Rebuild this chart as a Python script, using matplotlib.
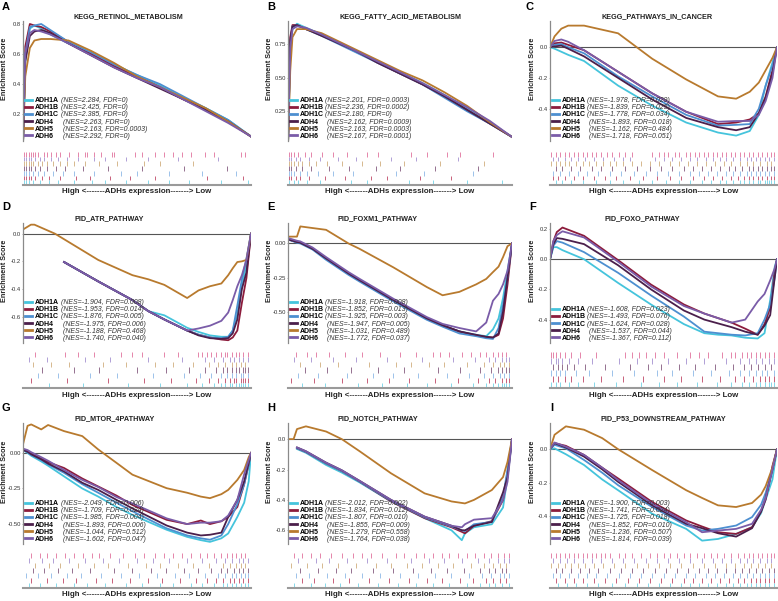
import numpy as np
import matplotlib.pyplot as plt
from matplotlib.lines import Line2D

plt.rcParams["font.family"] = ["Liberation Sans", "DejaVu Sans"]
plt.rcParams["axes.unicode_minus"] = False

GENES = ["ADH1A", "ADH1B", "ADH1C", "ADH4", "ADH5", "ADH6"]
COLORS = {"ADH1A": "#45c4dc", "ADH1B": "#8c1c3c", "ADH1C": "#4d8fd0",
          "ADH4": "#4b1f4b", "ADH5": "#b87a2e", "ADH6": "#7a5ca8"}
RUG_COLORS = {"top": "#e585aa", "ADH6": "#b0a0d6", "ADH5": "#d6b88e", "ADH4": "#94708f",
              "ADH1C": "#9cc2ea", "ADH1B": "#c8607a", "ADH1A": "#86d8ea"}
nan = np.nan

# ---- A: KEGG_RETINOL_METABOLISM
A_X = [0, 0.01, 0.03, 0.05, 0.08, 0.12, 0.2, 0.3, 0.4, 0.5, 0.6, 0.7, 0.8, 0.9, 1.0]
A_ES = {
    "ADH1A": [0.0, 0.55, 0.77, 0.79, 0.77, 0.73, 0.67, 0.60, 0.53, 0.46, 0.39, 0.31, 0.24, 0.16, 0.05],
    "ADH1B": [0.0, 0.65, 0.80, 0.79, 0.78, 0.75, 0.68, 0.60, 0.52, 0.45, 0.38, 0.30, 0.23, 0.15, 0.05],
    "ADH1C": [0.0, 0.60, 0.78, 0.79, 0.80, 0.76, 0.68, 0.61, 0.53, 0.46, 0.40, 0.32, 0.24, 0.16, 0.05],
    "ADH4": [0.0, 0.55, 0.72, 0.75, 0.76, 0.74, 0.67, 0.59, 0.51, 0.44, 0.37, 0.30, 0.23, 0.15, 0.05],
    "ADH5": [0.0, 0.45, 0.64, 0.69, 0.70, 0.70, 0.69, 0.62, 0.54, 0.45, 0.38, 0.31, 0.24, 0.15, 0.05],
    "ADH6": [0.0, 0.60, 0.74, 0.76, 0.75, 0.73, 0.67, 0.59, 0.51, 0.44, 0.38, 0.30, 0.22, 0.14, 0.05],
}
A_STATS = ["NES=2.284, FDR=0", "NES=2.425, FDR=0", "NES=2.385, FDR=0",
           "NES=2.263, FDR=0", "NES=2.163, FDR=0.0003", "NES=2.292, FDR=0"]
A_RUG = {
    "top": [0, 1, 2, 3, 4, 5, 6, 9, 10, 12, 14, 16, 20, 24, 27, 28, 31, 34, 39, 40, 49, 52, 58, 62, 66, 70, 74, 80, 84, 96, 98],
    "ADH6": [0, 1, 2, 3, 5, 7, 9, 12, 15, 19, 24, 31, 36, 45, 55, 68, 86],
    "ADH5": [0, 1, 2, 3, 4, 6, 8, 10, 13, 16, 19, 22, 27, 33, 41, 53, 60, 75],
    "ADH4": [0, 1, 2, 3, 5, 7, 10, 14, 18, 26, 37, 52, 71, 90],
    "ADH1C": [0, 1, 2, 4, 6, 9, 13, 17, 22, 31, 43, 50, 64, 79, 94],
    "ADH1B": [0, 1, 2, 3, 5, 8, 11, 16, 23, 29, 38, 47, 58, 81, 97],
    "ADH1A": [0, 1, 2, 4, 7, 11, 15, 22, 30, 36, 45, 55, 64, 73, 87, 99],
}

# ---- B: KEGG_FATTY_ACID_METABOLISM
B_X = [0, 0.01, 0.02, 0.04, 0.08, 0.15, 0.3, 0.4, 0.5, 0.6, 0.7, 0.8, 0.9, 1.0]
B_ES = {
    "ADH1A": [0.0, 0.70, 0.86, 0.90, 0.87, 0.82, 0.70, 0.62, 0.54, 0.46, 0.37, 0.27, 0.17, 0.06],
    "ADH1B": [0.0, 0.80, 0.89, 0.89, 0.86, 0.82, 0.70, 0.61, 0.53, 0.45, 0.36, 0.26, 0.16, 0.06],
    "ADH1C": [0.0, 0.75, 0.88, 0.89, 0.86, 0.81, 0.69, 0.61, 0.53, 0.45, 0.35, 0.25, 0.16, 0.06],
    "ADH4": [0.0, 0.78, 0.88, 0.89, 0.86, 0.81, 0.70, 0.61, 0.53, 0.45, 0.36, 0.26, 0.16, 0.06],
    "ADH5": [0.0, 0.55, 0.80, 0.86, 0.86, 0.83, 0.71, 0.63, 0.55, 0.48, 0.39, 0.29, 0.17, 0.06],
    "ADH6": [0.0, 0.72, 0.86, 0.88, 0.87, 0.82, 0.70, 0.62, 0.54, 0.46, 0.37, 0.28, 0.18, 0.06],
}
B_STATS = ["NES=2.201, FDR=0.0003", "NES=2.236, FDR=0.0002", "NES=2.180, FDR=0",
           "NES=2.162, FDR=0.0009", "NES=2.163, FDR=0.0003", "NES=2.167, FDR=0.0001"]
B_RUG = {
    "top": [0, 1, 2, 4, 7, 10, 15, 20, 26, 35, 40, 55, 62, 71, 77, 92],
    "ADH6": [0, 1, 3, 5, 9, 14, 22, 30, 46, 57, 76],
    "ADH5": [0, 1, 2, 4, 6, 9, 12, 17, 24, 33, 41, 52, 68, 88],
    "ADH4": [0, 1, 3, 6, 10, 18, 27, 39, 50, 66, 85],
    "ADH1C": [0, 1, 2, 5, 8, 13, 20, 29, 48, 61, 83],
    "ADH1B": [0, 1, 3, 5, 9, 16, 25, 37, 44, 59, 73],
    "ADH1A": [0, 2, 4, 8, 14, 28, 35, 54, 65, 80, 96],
}

# ---- C: KEGG_PATHWAYS_IN_CANCER
C_X = [0, 0.02, 0.05, 0.08, 0.15, 0.3, 0.45, 0.6, 0.74, 0.82, 0.88, 0.92, 0.95, 0.98, 1.0]
C_ES = {
    "ADH1A": [0, -0.01, -0.03, -0.05, -0.09, -0.25, -0.38, -0.49, -0.555, -0.575, -0.545, -0.44, -0.25, -0.10, 0],
    "ADH1B": [0, 0.025, 0.03, 0.015, -0.02, -0.16, -0.30, -0.42, -0.50, -0.49, -0.47, -0.43, -0.32, -0.15, 0],
    "ADH1C": [0, 0.015, 0.02, 0.0, -0.04, -0.19, -0.32, -0.44, -0.51, -0.505, -0.50, -0.40, -0.25, -0.12, 0],
    "ADH4": [0, 0.005, 0.01, -0.01, -0.06, -0.20, -0.34, -0.46, -0.52, -0.54, -0.52, -0.43, -0.33, -0.17, 0],
    "ADH5": [0, 0.07, 0.12, 0.14, 0.14, 0.09, -0.075, -0.21, -0.32, -0.335, -0.29, -0.23, -0.15, -0.07, 0],
    "ADH6": [0, 0.04, 0.05, 0.035, -0.02, -0.16, -0.30, -0.42, -0.485, -0.48, -0.48, -0.44, -0.35, -0.20, 0],
}
C_STATS = ["NES=-1.978, FDR=0.029", "NES=-1.839, FDR=0.025", "NES=-1.778, FDR=0.034",
           "NES=-1.893, FDR=0.018", "NES=-1.162, FDR=0.484", "NES=-1.718, FDR=0.051"]
C_RUG = {
    "top": [0, 2, 4, 6, 8, 10, 12, 14, 16, 18, 20, 22, 25, 27, 30, 33, 36, 45, 48, 50, 52, 55, 57, 60, 62, 64, 66, 68, 70, 72, 74, 76, 78, 80, 82, 84, 86, 88, 90, 92, 94, 96, 98, 99],
    "ADH6": [1, 3, 6, 9, 12, 15, 19, 23, 28, 32, 35, 46, 50, 54, 58, 62, 65, 69, 72, 75, 78, 81, 84, 87, 89, 91, 93, 95, 97, 99],
    "ADH5": [0, 2, 4, 6, 8, 11, 14, 17, 20, 23, 26, 29, 32, 36, 40, 44, 48, 53, 57, 61, 65, 69, 73, 77, 80, 84, 87, 90, 93, 96, 98],
    "ADH4": [2, 5, 9, 13, 18, 22, 27, 33, 38, 44, 49, 54, 59, 63, 67, 71, 75, 79, 82, 85, 88, 90, 92, 94, 96, 98, 99],
    "ADH1C": [1, 4, 8, 12, 16, 21, 26, 31, 37, 42, 47, 52, 57, 62, 66, 70, 74, 78, 81, 84, 87, 89, 91, 93, 95, 97, 99],
    "ADH1B": [1, 3, 6, 10, 14, 19, 24, 29, 35, 41, 47, 53, 58, 63, 68, 72, 76, 80, 83, 86, 88, 90, 92, 94, 96, 98, 99],
    "ADH1A": [2, 5, 9, 14, 20, 26, 32, 39, 45, 51, 57, 62, 67, 71, 75, 78, 81, 84, 86, 88, 90, 92, 93, 95, 96, 97, 98, 99],
}

# ---- D: PID_ATR_PATHWAY
D_X = [0, 0.035, 0.05, 0.14, 0.18, 0.33, 0.48, 0.55, 0.62, 0.72, 0.77, 0.82, 0.87, 0.9, 0.92, 0.94, 0.96, 0.98, 1.0]
D_ES = {
    "ADH1A": [nan, nan, nan, nan, -0.205, -0.345, -0.48, -0.56, -0.59, -0.68, -0.71, -0.735, -0.745, -0.745, -0.70, -0.58, -0.38, -0.22, 0],
    "ADH1B": [nan, nan, nan, nan, -0.205, -0.345, -0.48, -0.56, -0.62, -0.70, -0.73, -0.75, -0.765, -0.77, -0.75, -0.70, -0.50, -0.32, 0],
    "ADH1C": [nan, nan, nan, nan, -0.205, -0.345, -0.48, -0.56, -0.62, -0.70, -0.73, -0.75, -0.755, -0.745, -0.70, -0.52, -0.33, -0.18, 0],
    "ADH4": [nan, nan, nan, nan, -0.205, -0.345, -0.48, -0.56, -0.62, -0.70, -0.735, -0.755, -0.76, -0.755, -0.72, -0.62, -0.40, -0.28, 0],
    "ADH5": [0.03, 0.065, 0.065, 0.0, -0.04, -0.19, -0.30, -0.33, -0.37, -0.465, -0.41, -0.38, -0.36, -0.30, -0.25, -0.205, -0.20, -0.19, 0],
    "ADH6": [nan, nan, nan, nan, -0.205, -0.345, -0.48, -0.56, -0.62, -0.70, -0.685, -0.665, -0.63, -0.57, -0.48, -0.38, -0.30, -0.19, 0],
}
D_STATS = ["NES=-1.904, FDR=0.008", "NES=-1.953, FDR=0.014", "NES=-1.876, FDR=0.005",
           "NES=-1.975, FDR=0.006", "NES=-1.188, FDR=0.468", "NES=-1.740, FDR=0.040"]
D_RUG = {
    "top": [5, 18, 24, 31, 43, 48, 52, 62, 68, 77, 79, 81, 83, 85, 87, 89, 90, 92, 94, 95, 97, 99],
    "ADH6": [2, 10, 27, 38, 55, 70, 80, 84, 88, 91, 93, 95, 97, 99],
    "ADH5": [4, 12, 20, 35, 45, 58, 66, 75, 82, 86, 89, 92, 94, 96, 98],
    "ADH4": [8, 22, 33, 50, 63, 73, 80, 85, 88, 90, 92, 94, 95, 97, 98, 99],
    "ADH1C": [6, 15, 29, 41, 57, 71, 78, 83, 87, 90, 92, 94, 96, 97, 99],
    "ADH1B": [3, 19, 37, 53, 65, 76, 82, 86, 89, 91, 93, 94, 96, 97, 98, 99],
    "ADH1A": [11, 26, 46, 60, 72, 79, 84, 87, 89, 91, 92, 94, 95, 96, 97, 98, 99],
}

# ---- E: PID_FOXM1_PATHWAY
E_X = [0, 0.04, 0.055, 0.11, 0.17, 0.27, 0.32, 0.47, 0.62, 0.69, 0.765, 0.84, 0.885, 0.915, 0.94, 0.96, 0.98, 1.0]
E_ES = {
    "ADH1A": [0.03, 0.01, 0.005, -0.04, -0.11, -0.22, -0.27, -0.415, -0.55, -0.60, -0.645, -0.67, -0.68, -0.63, -0.55, -0.40, -0.20, 0],
    "ADH1B": [0.03, 0.01, 0.005, -0.04, -0.11, -0.22, -0.27, -0.415, -0.55, -0.60, -0.645, -0.675, -0.685, -0.69, -0.67, -0.55, -0.30, 0],
    "ADH1C": [0.03, 0.005, 0.0, -0.045, -0.12, -0.23, -0.28, -0.425, -0.56, -0.61, -0.66, -0.68, -0.695, -0.70, -0.62, -0.45, -0.25, 0],
    "ADH4": [0.03, 0.01, 0.005, -0.04, -0.11, -0.22, -0.27, -0.415, -0.55, -0.60, -0.645, -0.67, -0.685, -0.69, -0.66, -0.50, -0.25, 0],
    "ADH5": [0.05, 0.05, 0.125, 0.113, 0.10, 0.0, -0.04, -0.175, -0.32, -0.38, -0.355, -0.30, -0.26, -0.21, -0.17, -0.10, -0.02, 0],
    "ADH6": [0.04, 0.02, 0.015, -0.03, -0.10, -0.21, -0.26, -0.405, -0.54, -0.59, -0.62, -0.645, -0.58, -0.42, -0.37, -0.30, -0.20, 0],
}
E_STATS = ["NES=-1.918, FDR=0.008", "NES=-1.852, FDR=0.013", "NES=-1.925, FDR=0.003",
           "NES=-1.947, FDR=0.005", "NES=-1.031, FDR=0.489", "NES=-1.772, FDR=0.037"]
E_RUG = {
    "top": [3, 8, 12, 18, 25, 33, 41, 50, 57, 65, 68, 72, 78, 82, 86, 89, 92, 94, 96, 98],
    "ADH6": [2, 10, 20, 30, 44, 60, 74, 84, 90, 93, 96, 98, 99],
    "ADH5": [5, 14, 22, 36, 48, 55, 63, 70, 80, 88, 92, 95, 97, 99],
    "ADH4": [7, 17, 28, 40, 52, 67, 77, 86, 91, 94, 96, 98, 99],
    "ADH1C": [4, 13, 26, 38, 47, 58, 71, 81, 88, 92, 95, 97, 99],
    "ADH1B": [1, 11, 24, 35, 45, 54, 66, 76, 85, 90, 93, 96, 98, 99],
    "ADH1A": [6, 16, 31, 42, 53, 62, 73, 83, 89, 92, 94, 96, 97, 98, 99],
}

# ---- F: PID_FOXO_PATHWAY (no ADH5)
F_X = [0, 0.015, 0.03, 0.055, 0.15, 0.3, 0.445, 0.59, 0.68, 0.74, 0.8, 0.86, 0.915, 0.945, 0.97, 0.99, 1.0]
F_ES = {
    "ADH1A": [0, 0.08, 0.08, 0.06, 0.0, -0.157, -0.30, -0.43, -0.49, -0.50, -0.505, -0.52, -0.525, -0.49, -0.27, -0.05, 0],
    "ADH1B": [0, 0.12, 0.18, 0.21, 0.155, -0.006, -0.168, -0.30, -0.36, -0.39, -0.42, -0.46, -0.50, -0.43, -0.32, -0.08, 0],
    "ADH1C": [0, 0.09, 0.12, 0.11, 0.047, -0.09, -0.24, -0.38, -0.48, -0.49, -0.50, -0.505, -0.49, -0.40, -0.30, -0.12, 0],
    "ADH4": [0, 0.10, 0.14, 0.135, 0.10, -0.04, -0.20, -0.34, -0.40, -0.425, -0.45, -0.48, -0.50, -0.44, -0.37, -0.12, 0],
    "ADH6": [0, 0.12, 0.16, 0.185, 0.144, -0.017, -0.18, -0.31, -0.36, -0.39, -0.42, -0.40, -0.28, -0.23, -0.14, -0.06, 0],
}
F_STATS = ["NES=-1.608, FDR=0.023", "NES=-1.493, FDR=0.076", "NES=-1.624, FDR=0.028",
           "NES=-1.537, FDR=0.044", "NES=-1.367, FDR=0.112"]
F_RUG = {
    "top": [0, 1, 2, 4, 6, 9, 13, 20, 33, 36, 39, 42, 46, 50, 56, 62, 66, 70, 76, 80, 82, 85, 87, 89, 91, 93, 95, 97, 99],
    "ADH6": [0, 2, 3, 5, 8, 12, 18, 30, 38, 45, 52, 60, 68, 78, 84, 88, 91, 94, 97, 99],
    "ADH4": [1, 3, 5, 7, 10, 15, 24, 35, 43, 49, 57, 64, 73, 81, 86, 89, 92, 95, 98],
    "ADH1C": [0, 2, 4, 6, 11, 17, 27, 37, 47, 54, 63, 71, 79, 84, 88, 91, 94, 96, 99],
    "ADH1B": [1, 3, 6, 9, 14, 22, 32, 41, 50, 58, 67, 75, 82, 86, 90, 93, 95, 97, 99],
    "ADH1A": [0, 2, 4, 8, 12, 19, 29, 40, 48, 56, 65, 74, 80, 85, 88, 91, 93, 95, 97, 98, 99],
}

# ---- G: PID_MTOR_4PATHWAY
G_X = [0, 0.02, 0.036, 0.08, 0.11, 0.18, 0.26, 0.33, 0.41, 0.48, 0.63, 0.72, 0.78, 0.82, 0.87, 0.9, 0.94, 0.97, 0.99, 1.0]
G_ES = {
    "ADH1A": [0.02, 0.0, -0.02, -0.06, -0.09, -0.165, -0.25, -0.307, -0.38, -0.436, -0.54, -0.59, -0.613, -0.625, -0.60, -0.566, -0.45, -0.35, -0.20, 0],
    "ADH1B": [0.025, 0.01, -0.005, -0.04, -0.065, -0.106, -0.18, -0.236, -0.30, -0.366, -0.47, -0.50, -0.475, -0.50, -0.48, -0.45, -0.38, -0.22, -0.08, 0],
    "ADH1C": [0.02, 0.005, -0.015, -0.05, -0.08, -0.14, -0.22, -0.28, -0.35, -0.41, -0.53, -0.58, -0.60, -0.61, -0.58, -0.50, -0.36, -0.22, -0.08, 0],
    "ADH4": [0.02, 0.008, -0.01, -0.045, -0.075, -0.13, -0.21, -0.26, -0.33, -0.39, -0.51, -0.56, -0.58, -0.575, -0.56, -0.45, -0.33, -0.20, -0.07, 0],
    "ADH5": [0.06, 0.19, 0.20, 0.165, 0.196, 0.153, 0.118, 0.024, -0.07, -0.153, -0.248, -0.28, -0.307, -0.318, -0.29, -0.26, -0.19, -0.12, -0.03, 0],
    "ADH6": [0.03, 0.02, 0.005, -0.03, -0.055, -0.12, -0.19, -0.24, -0.31, -0.355, -0.46, -0.50, -0.49, -0.49, -0.48, -0.44, -0.33, -0.15, -0.05, 0],
}
G_STATS = ["NES=-2.049, FDR=0.006", "NES=-1.709, FDR=0.024", "NES=-1.985, FDR=0.004",
           "NES=-1.893, FDR=0.006", "NES=-1.044, FDR=0.512", "NES=-1.602, FDR=0.047"]
G_RUG = {
    "top": [3, 7, 10, 14, 18, 22, 26, 30, 33, 38, 44, 49, 53, 58, 62, 66, 70, 74, 78, 81, 84, 87, 90, 92, 94, 96, 98],
    "ADH6": [2, 8, 13, 20, 27, 35, 42, 50, 57, 64, 72, 79, 85, 89, 92, 95, 97, 99],
    "ADH5": [5, 11, 16, 24, 31, 37, 46, 54, 60, 68, 75, 82, 88, 91, 94, 96, 98],
    "ADH4": [4, 9, 15, 21, 29, 40, 48, 56, 63, 71, 77, 83, 87, 90, 93, 95, 97, 99],
    "ADH1C": [1, 6, 12, 19, 25, 34, 43, 51, 59, 67, 73, 80, 86, 89, 92, 94, 96, 98, 99],
    "ADH1B": [3, 10, 17, 23, 32, 39, 47, 55, 61, 69, 76, 81, 85, 88, 91, 93, 95, 97, 99],
    "ADH1A": [2, 7, 14, 22, 28, 36, 45, 52, 60, 66, 74, 79, 84, 88, 90, 92, 94, 96, 98, 99],
}

# ---- H: PID_NOTCH_PATHWAY
H_X = [0, 0.025, 0.04, 0.08, 0.17, 0.24, 0.32, 0.46, 0.61, 0.73, 0.776, 0.79, 0.83, 0.91, 0.96, 0.98, 1.0]
H_ES = {
    "ADH1A": [nan, nan, -0.065, -0.09, -0.17, -0.22, -0.285, -0.41, -0.52, -0.60, -0.665, -0.62, -0.58, -0.56, -0.45, -0.25, 0],
    "ADH1B": [nan, nan, -0.06, -0.085, -0.16, -0.21, -0.28, -0.41, -0.52, -0.58, -0.61, -0.62, -0.57, -0.54, -0.40, -0.22, 0],
    "ADH1C": [nan, nan, -0.06, -0.085, -0.16, -0.21, -0.28, -0.405, -0.515, -0.575, -0.60, -0.605, -0.56, -0.545, -0.38, -0.20, 0],
    "ADH4": [nan, nan, -0.055, -0.08, -0.155, -0.205, -0.275, -0.40, -0.51, -0.57, -0.60, -0.60, -0.57, -0.545, -0.35, -0.25, 0],
    "ADH5": [0, 0.0, 0.066, 0.084, 0.05, 0.0, -0.08, -0.225, -0.357, -0.41, -0.42, -0.423, -0.40, -0.335, -0.25, -0.15, 0],
    "ADH6": [nan, nan, -0.055, -0.08, -0.155, -0.205, -0.275, -0.40, -0.51, -0.57, -0.58, -0.56, -0.53, -0.52, -0.40, -0.28, 0],
}
H_STATS = ["NES=-2.012, FDR=0.002", "NES=-1.834, FDR=0.012", "NES=-1.807, FDR=0.010",
           "NES=-1.855, FDR=0.009", "NES=-1.279, FDR=0.558", "NES=-1.764, FDR=0.038"]
H_RUG = {
    "top": [2, 6, 10, 14, 19, 24, 29, 33, 37, 42, 48, 52, 57, 61, 65, 69, 72, 76, 80, 84, 88, 91, 94, 97, 99],
    "ADH6": [4, 12, 18, 26, 35, 44, 55, 63, 70, 78, 85, 90, 94, 97, 99],
    "ADH5": [1, 8, 15, 22, 30, 39, 46, 53, 60, 67, 74, 82, 88, 92, 95, 98],
    "ADH4": [5, 13, 21, 28, 38, 47, 56, 64, 71, 79, 86, 90, 93, 96, 98],
    "ADH1C": [3, 9, 17, 25, 33, 41, 50, 58, 66, 73, 81, 87, 91, 95, 97, 99],
    "ADH1B": [6, 11, 20, 27, 36, 45, 54, 62, 69, 77, 83, 89, 92, 95, 98],
    "ADH1A": [2, 10, 16, 23, 31, 40, 49, 57, 65, 72, 80, 86, 90, 93, 96, 99],
}

# ---- I: PID_P53_DOWNSTREAM_PATHWAY
I_X = [0, 0.02, 0.07, 0.15, 0.23, 0.3, 0.45, 0.6, 0.67, 0.74, 0.82, 0.89, 0.93, 0.95, 0.98, 1.0]
I_ES = {
    "ADH1A": [0, 0.005, -0.03, -0.094, -0.18, -0.244, -0.384, -0.474, -0.544, -0.534, -0.504, -0.464, -0.38, -0.30, -0.18, 0],
    "ADH1B": [0, 0.036, 0.02, -0.034, -0.11, -0.174, -0.314, -0.424, -0.46, -0.494, -0.504, -0.464, -0.37, -0.30, -0.10, 0],
    "ADH1C": [0, 0.026, 0.005, -0.064, -0.14, -0.214, -0.344, -0.454, -0.484, -0.474, -0.454, -0.404, -0.33, -0.26, -0.12, 0],
    "ADH4": [0, 0.036, 0.01, -0.044, -0.12, -0.194, -0.334, -0.444, -0.47, -0.50, -0.52, -0.47, -0.37, -0.29, -0.12, 0],
    "ADH5": [0, 0.086, 0.136, 0.116, 0.066, 0.0, -0.124, -0.244, -0.29, -0.334, -0.344, -0.32, -0.27, -0.22, -0.11, 0],
    "ADH6": [0, 0.04, 0.015, -0.034, -0.11, -0.184, -0.324, -0.434, -0.494, -0.484, -0.474, -0.444, -0.36, -0.29, -0.12, 0],
}
I_STATS = ["NES=-1.900, FDR=0.003", "NES=-1.741, FDR=0.024", "NES=-1.725, FDR=0.018",
           "NES=-1.852, FDR=0.010", "NES=-1.236, FDR=0.507", "NES=-1.814, FDR=0.039"]
I_RUG = {
    "top": [0, 2, 4, 6, 8, 10, 12, 14, 16, 18, 20, 22, 24, 26, 30, 33, 36, 40, 44, 47, 50, 53, 56, 59, 62, 65, 68, 71, 74, 77, 80, 83, 86, 88, 90, 92, 94, 96, 98, 99],
    "ADH6": [1, 4, 7, 10, 14, 18, 22, 27, 32, 37, 42, 47, 52, 57, 62, 67, 72, 76, 80, 84, 87, 90, 93, 96, 98],
    "ADH5": [0, 3, 6, 9, 12, 15, 19, 23, 28, 33, 38, 43, 48, 53, 58, 63, 68, 73, 78, 82, 86, 89, 92, 95, 98],
    "ADH4": [2, 5, 9, 13, 17, 21, 26, 31, 36, 41, 46, 51, 56, 61, 66, 70, 74, 78, 82, 85, 88, 91, 94, 97, 99],
    "ADH1C": [1, 4, 8, 12, 16, 20, 25, 30, 35, 40, 45, 50, 55, 60, 64, 69, 73, 77, 81, 84, 87, 90, 93, 95, 97, 99],
    "ADH1B": [2, 6, 10, 14, 19, 24, 29, 34, 39, 44, 49, 54, 59, 63, 67, 71, 75, 79, 83, 86, 89, 91, 93, 95, 97, 99],
    "ADH1A": [3, 7, 11, 16, 21, 27, 33, 38, 43, 48, 53, 58, 62, 66, 70, 74, 78, 81, 84, 87, 89, 91, 93, 95, 97, 99],
}

# letter, title, x, es, stats, rug, ylim, yticks, tick format
PANELS = [
    ("A", "KEGG_RETINOL_METABOLISM", A_X, A_ES, A_STATS, A_RUG, (0.02, 0.82), [0.2, 0.4, 0.6, 0.8], "%.1f"),
    ("B", "KEGG_FATTY_ACID_METABOLISM", B_X, B_ES, B_STATS, B_RUG, (0.03, 0.92), [0.25, 0.5, 0.75], "%.2f"),
    ("C", "KEGG_PATHWAYS_IN_CANCER", C_X, C_ES, C_STATS, C_RUG, (-0.61, 0.17), [-0.4, -0.2, 0.0], "%.1f"),
    ("D", "PID_ATR_PATHWAY", D_X, D_ES, D_STATS, D_RUG, (-0.79, 0.077), [-0.6, -0.4, -0.2, 0.0], "%.1f"),
    ("E", "PID_FOXM1_PATHWAY", E_X, E_ES, E_STATS, E_RUG, (-0.73, 0.15), [-0.5, -0.25, 0.0], "%.2f"),
    ("F", "PID_FOXO_PATHWAY", F_X, F_ES, F_STATS, F_RUG, (-0.555, 0.24), [-0.4, -0.2, 0.0, 0.2], "%.1f"),
    ("G", "PID_MTOR_4PATHWAY", G_X, G_ES, G_STATS, G_RUG, (-0.64, 0.21), [-0.5, -0.25, 0.0], "%.2f"),
    ("H", "PID_NOTCH_PATHWAY", H_X, H_ES, H_STATS, H_RUG, (-0.69, 0.106), [-0.6, -0.4, -0.2, 0.0], "%.1f"),
    ("I", "PID_P53_DOWNSTREAM_PATHWAY", I_X, I_ES, I_STATS, I_RUG, (-0.564, 0.156), [-0.4, -0.2, 0.0], "%.1f"),
]

# layout in pixels
W, H = 778, 601
COL_L = [23, 288, 550]
COL_R = [251, 512, 777]
YLAB_X = [8, 273, 536]      # right edge of the rotated y label
MAIN_TB = [(21, 141), (223, 343), (423, 544)]
RUG_TB = [(152, 185), (352, 388), (553, 588)]
LETTER_X = [2, 267, 525, 2, 267, 529, 2, 267, 550]
LETTER_Y = [7, 207, 408]
TITLE_X = [0.46, 0.5, 0.47, 0.38, 0.40, 0.405, 0.40, 0.40, 0.50]

fig = plt.figure(figsize=(W / 100, H / 100), dpi=100)


def px_axes(l, t, r, b):
    return fig.add_axes([l / W, 1 - b / H, (r - l) / W, (b - t) / H])


for k, (letter, title, xs, es, stats, rug, ylim, yticks, fmt) in enumerate(PANELS):
    row, col = divmod(k, 3)
    ax = px_axes(COL_L[col], MAIN_TB[row][0], COL_R[col], MAIN_TB[row][1])
    genes = [g for g in GENES if g in es]

    lines = []
    for g in genes:
        ln, = ax.plot(xs, es[g], color=COLORS[g], lw=1.3, solid_joinstyle="round")
        lines.append(ln)

    if ylim[0] < 0:
        ax.axhline(0, color="#555555", lw=0.8, zorder=0)

    ax.set_xlim(0, 1)
    ax.set_ylim(*ylim)
    ax.set_yticks(yticks)
    ax.set_yticklabels([fmt % t for t in yticks])
    ax.set_xticks([])
    for s in ["top", "right", "bottom"]:
        ax.spines[s].set_visible(False)
    ax.spines["left"].set_color("#8a8a8a")
    ax.spines["left"].set_linewidth(0.9)
    ax.tick_params(axis="y", length=1.0, width=0.5, color="#8a8a8a", pad=0.6,
                   labelsize=4.2, labelcolor="#333333")
    ax.set_ylabel("Enrichment Score", fontsize=5.2, fontweight="bold", color="#222222")
    ax.yaxis.set_label_coords((YLAB_X[col] - COL_L[col]) / (COL_R[col] - COL_L[col]), 0.6)

    ax.text(TITLE_X[k], 1.035, title, transform=ax.transAxes, ha="center", va="center",
            fontsize=5.2, fontweight="bold", color="#222222")
    fig.text(LETTER_X[k] / W, 1 - LETTER_Y[row] / H, letter, ha="left", va="center",
             fontsize=8, fontweight="bold")

    # legend: colored handle + bold name, then italic stats column
    leg1 = ax.legend(lines, genes, loc="lower left", bbox_to_anchor=(0.008, 0.01),
                     frameon=False, prop={"size": 5, "weight": "bold"}, handlelength=1.0,
                     handletextpad=0.4, labelspacing=0.02, borderpad=0, borderaxespad=0)
    for h in leg1.legend_handles:
        h.set_linewidth(2)
    ax.add_artist(leg1)
    blanks = [Line2D([], [], linestyle="none") for _ in genes]
    labels = [("(" if g in ("ADH1A", "ADH1B", "ADH1C") else " (") + s + ")"
              for g, s in zip(genes, stats)]
    leg2 = ax.legend(blanks, labels, loc="lower left", bbox_to_anchor=(0.165, 0.01),
                     frameon=False, prop={"size": 5, "style": "italic"}, handlelength=0,
                     handletextpad=0, labelspacing=0.02, borderpad=0, borderaxespad=0)
    for t in leg2.get_texts():
        t.set_color("#333333")

    # hit barcode below
    rax = px_axes(COL_L[col], RUG_TB[row][0], COL_R[col], RUG_TB[row][1])
    order = ["top"] + [g for g in ["ADH6", "ADH5", "ADH4", "ADH1C", "ADH1B", "ADH1A"] if g in es]
    n = len(order)
    for i, key in enumerate(order):
        rax.vlines(rug[key], n - i - 1, n - i, colors=RUG_COLORS[key], lw=0.7)
    rax.set_xlim(-0.5, 100.5)
    rax.set_ylim(0, n)
    rax.set_xticks([])
    rax.set_yticks([])
    for s in ["top", "right", "left"]:
        rax.spines[s].set_visible(False)
    rax.spines["bottom"].set_color("#9a9a9a")
    rax.spines["bottom"].set_linewidth(1.5)
    rax.text(0.5, -0.2, "High <-------ADHs expression-------> Low", transform=rax.transAxes,
             ha="center", va="center", fontsize=5.7, fontweight="bold", color="#222222")

fig.savefig("out.png", dpi=100)
